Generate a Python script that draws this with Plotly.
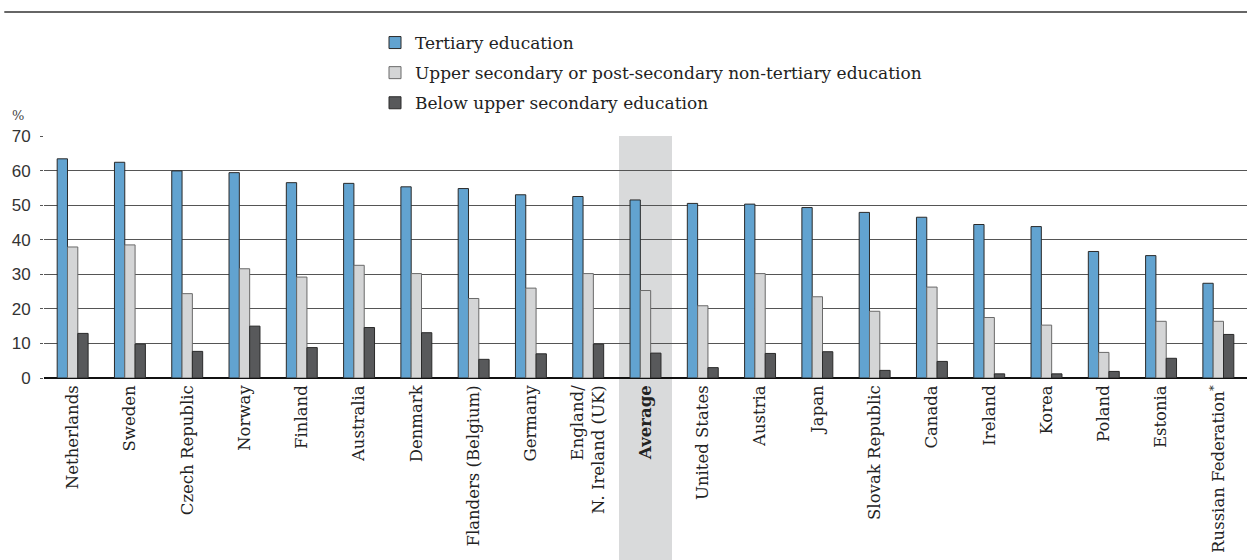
import plotly.graph_objects as go

countries = ["Netherlands", "Sweden", "Czech Republic", "Norway", "Finland", "Australia",
             "Denmark", "Flanders (Belgium)", "Germany", "England/<br>N. Ireland (UK)",
             "<b>Average</b>", "United States", "Austria", "Japan", "Slovak Republic",
             "Canada", "Ireland", "Korea", "Poland", "Estonia", "Russian Federation<sup>*</sup>"]

tertiary = [63.4, 62.4, 59.9, 59.4, 56.5, 56.3, 55.3, 54.8, 53.0, 52.5, 51.5,
            50.5, 50.3, 49.3, 47.9, 46.5, 44.4, 43.8, 36.6, 35.4, 27.4]
upper_sec = [37.9, 38.5, 24.4, 31.6, 29.2, 32.6, 30.2, 23.0, 26.0, 30.2, 25.3,
             20.9, 30.2, 23.5, 19.3, 26.3, 17.5, 15.3, 7.4, 16.4, 16.4]
below_sec = [12.9, 9.8, 7.7, 15.0, 8.8, 14.6, 13.1, 5.4, 7.0, 9.8, 7.2,
             3.0, 7.1, 7.6, 2.2, 4.8, 1.2, 1.2, 1.9, 5.7, 12.6]

series_names = ["Tertiary education",
                "Upper secondary or post-secondary non-tertiary education",
                "Below upper secondary education"]
series_colors = ["#62A3D0", "#D4D5D6", "#58595B"]
series_edges = ["#2a2a2a", "#6a6a6a", "#2a2a2a"]
avg_label = "<b>Average</b>"

x_idx = list(range(len(countries)))

fig = go.Figure()
for i, (name, vals, col, edge) in enumerate(zip(series_names, [tertiary, upper_sec, below_sec],
                                                 series_colors, series_edges)):
    fig.add_trace(go.Bar(
        x=x_idx, y=vals, name=name, legendgroup=f"g{i}",
        marker=dict(color=col, line=dict(color=edge, width=1)),
    ))

n = len(countries)
ai = countries.index(avg_label)
half = 0.4625
fig.add_shape(type="rect", xref="x domain", yref="paper",
              x0=(ai + 0.5 - half) / n, x1=(ai + 0.5 + half) / n,
              y0=-1.0, y1=1.0, fillcolor="#D9DADB", line=dict(width=0), layer="below")

# top rule
fig.add_shape(type="line", xref="paper", yref="paper", x0=-0.033, x1=1.0,
              y0=1 + (136 - 12) / 242, y1=1 + (136 - 12) / 242,
              line=dict(color="#333333", width=1.5))

fig.add_annotation(text="%", xref="paper", yref="paper", x=(18 - 44) / 1203, y=1 + (136 - 125) / 242,
                   showarrow=False, xanchor="center", yanchor="bottom",
                   font=dict(family="DejaVu Serif", size=13, color="#444"))

fig.update_layout(
    width=1247, height=560,
    margin=dict(l=44, r=0, t=136, b=182, autoexpand=False),
    paper_bgcolor="white", plot_bgcolor="rgba(0,0,0,0)",
    barmode="group", bargap=0.46, bargroupgap=0,
    showlegend=True,
    legend=dict(x=(375 - 44) / 1203, y=1 + (136 - 25) / 242, xref="paper", yref="paper",
                xanchor="left", yanchor="top",
                orientation="v", tracegroupgap=5, bgcolor="rgba(0,0,0,0)",
                font=dict(family="DejaVu Serif", size=17, color="#222")),
    xaxis=dict(tickmode="array", tickvals=x_idx, ticktext=countries, tickangle=-90,
               range=[-0.5, n - 0.5], showgrid=False, showline=False, ticks="",
               automargin=False, ticklabelstandoff=3,
               tickfont=dict(family="DejaVu Serif", size=16.5, color="#222")),
    yaxis=dict(range=[0, 70], dtick=10, showgrid=True, gridcolor="#555555", gridwidth=1,
               zeroline=True, zerolinecolor="#111111", zerolinewidth=1.5,
               ticks="outside", ticklen=3, tickcolor="#555555", automargin=False,
               ticklabelstandoff=6,
               tickfont=dict(family="Liberation Sans", size=17, color="#333")),
)

fig.write_html("out.html", config={"displayModeBar": False},
               post_script="document.body.style.margin='0';")
